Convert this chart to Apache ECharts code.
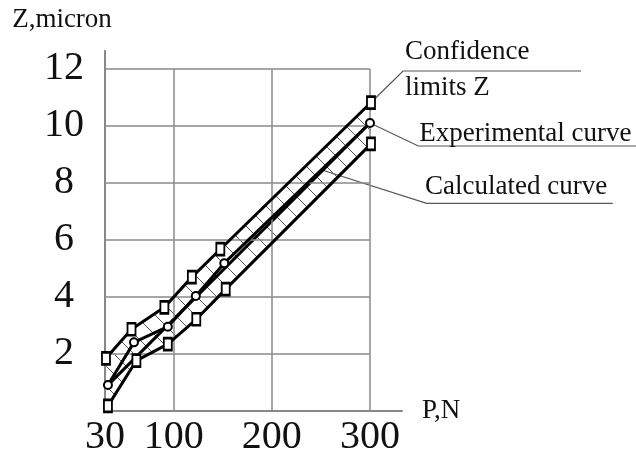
<!DOCTYPE html>
<html>
<head>
<meta charset="utf-8">
<script src="https://cdn.jsdelivr.net/npm/echarts@6/dist/echarts.min.js"></script>
<style>html,body{margin:0;padding:0;background:#fff}#c{width:636px;height:455px}</style>
</head>
<body>
<div id="c"></div>
<script>
// ---- data ----
const xTickValues = [30, 100, 200, 300];
const yTickValues = [2, 4, 6, 8, 10, 12];
const upperP = [31, 57, 90.5, 118.5, 147.5, 301];
const upperZ = [1.84, 2.86, 3.63, 4.69, 5.67, 10.82];
const expP = [33, 59.5, 94, 122.5, 151.5, 300];
const expZ = [0.9, 2.40, 2.95, 4.03, 5.18, 10.10];
const lowerP = [33, 62, 94, 123, 153, 301];
const lowerZ = [0.17, 1.76, 2.34, 3.21, 4.27, 9.37];
const calcP = [33, 300];
const calcZ = [0.9, 10.1];
const calcLeaderPoint = [251, 8.45];

const FONT = '"Liberation Serif", "Times New Roman", serif';
const pairs = (xs, ys) => xs.map((x, i) => [x, ys[i]]);
const upper = pairs(upperP, upperZ);
const lower = pairs(lowerP, lowerZ);
const exper = pairs(expP, expZ);
const calc = pairs(calcP, calcZ);

// hatch pattern
const S = 20;
const hc = document.createElement('canvas');
hc.width = S; hc.height = S;
const hx = hc.getContext('2d');
hx.strokeStyle = '#555'; hx.lineWidth = 1;
hx.beginPath();
hx.moveTo(-1, -1); hx.lineTo(S + 1, S + 1);
hx.moveTo(S - 2, -2); hx.lineTo(S + 2, 2);
hx.moveTo(-2, S - 2); hx.lineTo(2, S + 2);
hx.stroke();

const gridLines = [];
yTickValues.forEach(v => gridLines.push([{coord: [xTickValues[0], v]}, {coord: [xTickValues[xTickValues.length - 1], v]}]));
xTickValues.slice(1).forEach(v => gridLines.push([{coord: [v, 0]}, {coord: [v, yTickValues[yTickValues.length - 1]]}]));

const thick = {color: '#000', width: 3};
const chart = echarts.init(document.getElementById('c'), null, {renderer: 'canvas'});
const option = {
  animation: false,
  backgroundColor: '#fff',
  grid: {left: 105, right: 234, top: 50.7, bottom: 44.3, containLabel: false, outerBoundsMode: 'none'},
  xAxis: {
    type: 'value', min: 30, max: 332.6,
    name: 'P,N', nameLocation: 'end', nameGap: 20,
    nameTextStyle: {fontFamily: FONT, fontSize: 27, color: '#111', align: 'left', verticalAlign: 'middle', padding: [0, 0, 11, 0]},
    axisLine: {show: true, lineStyle: {color: '#888', width: 2}},
    axisTick: {show: false},
    splitLine: {show: false},
    axisLabel: {customValues: xTickValues, fontFamily: FONT, fontSize: 40, color: '#111', margin: 7}
  },
  yAxis: {
    type: 'value', min: 0, max: 12.64,
    name: 'Z,micron', nameLocation: 'end', nameGap: 30.4,
    nameTextStyle: {fontFamily: FONT, fontSize: 27, color: '#111', align: 'center', verticalAlign: 'middle', padding: [0, 86, 0, 0]},
    axisLine: {show: true, lineStyle: {color: '#888', width: 2}},
    axisTick: {show: false},
    splitLine: {show: false},
    axisLabel: {customValues: yTickValues, fontFamily: FONT, fontSize: 40, color: '#111', margin: 41, align: 'center', padding: [8, 0, 0, 0]}
  },
  series: [
    {
      name: 'grid', type: 'line', data: [], z: 1, silent: true,
      markLine: {silent: true, symbol: ['none', 'none'], label: {show: false}, animation: false,
        lineStyle: {color: '#8a8a8a', width: 1.5, type: 'solid'}, emphasis: {disabled: true}, data: gridLines}
    },
    {
      name: 'band', type: 'custom', z: 2, silent: true, data: [[30, 0]],
      renderItem: function (params, api) {
        const pts = upper.map(p => api.coord(p)).concat(lower.slice().reverse().map(p => api.coord(p)));
        return {type: 'polygon', shape: {points: pts}, style: {fill: {image: hc, repeat: 'repeat'}, stroke: null}};
      }
    },
    {name: 'Calculated curve', type: 'line', z: 4, data: calc, symbol: 'none', lineStyle: thick},
    {name: 'Confidence limits Z (upper)', type: 'line', z: 5, data: upper, symbol: 'rect', symbolSize: [8, 12],
      lineStyle: thick, itemStyle: {color: '#fff', borderColor: '#000', borderWidth: 2.2}},
    {name: 'Confidence limits Z (lower)', type: 'line', z: 5, data: lower, symbol: 'rect', symbolSize: [8, 12],
      lineStyle: thick, itemStyle: {color: '#fff', borderColor: '#000', borderWidth: 2.2}},
    {name: 'Experimental curve', type: 'line', z: 6, data: exper, symbol: 'circle', symbolSize: 8,
      lineStyle: thick, itemStyle: {color: '#fff', borderColor: '#000', borderWidth: 2}}
  ]
};
chart.setOption(option);

const px = p => chart.convertToPixel({gridIndex: 0}, p);
const uEnd = px(upper[upper.length - 1]);
const eEnd = px(exper[exper.length - 1]);
const cPt = px(calcLeaderPoint);
const leader = {stroke: '#555', lineWidth: 1.2, fill: null};
const txt = (t, x, y) => ({type: 'text', z: 10, style: {text: t, x: x, y: y, font: '27px ' + FONT, fill: '#111', align: 'left', verticalAlign: 'middle'}});
chart.setOption({
  graphic: [
    {type: 'polyline', z: 1, shape: {points: [uEnd, [403, 71], [581, 71]]}, style: leader},
    {type: 'polyline', z: 1, shape: {points: [eEnd, [418.3, 146], [636, 146]]}, style: leader},
    {type: 'polyline', z: 1, shape: {points: [cPt, [426.7, 203.3], [612.7, 203.3]]}, style: leader},
    txt('Confidence', 405, 51.7),
    txt('limits Z', 405, 87.7),
    txt('Experimental curve', 419.3, 134.3),
    txt('Calculated curve', 425, 187)
  ]
});
</script>
</body>
</html>
